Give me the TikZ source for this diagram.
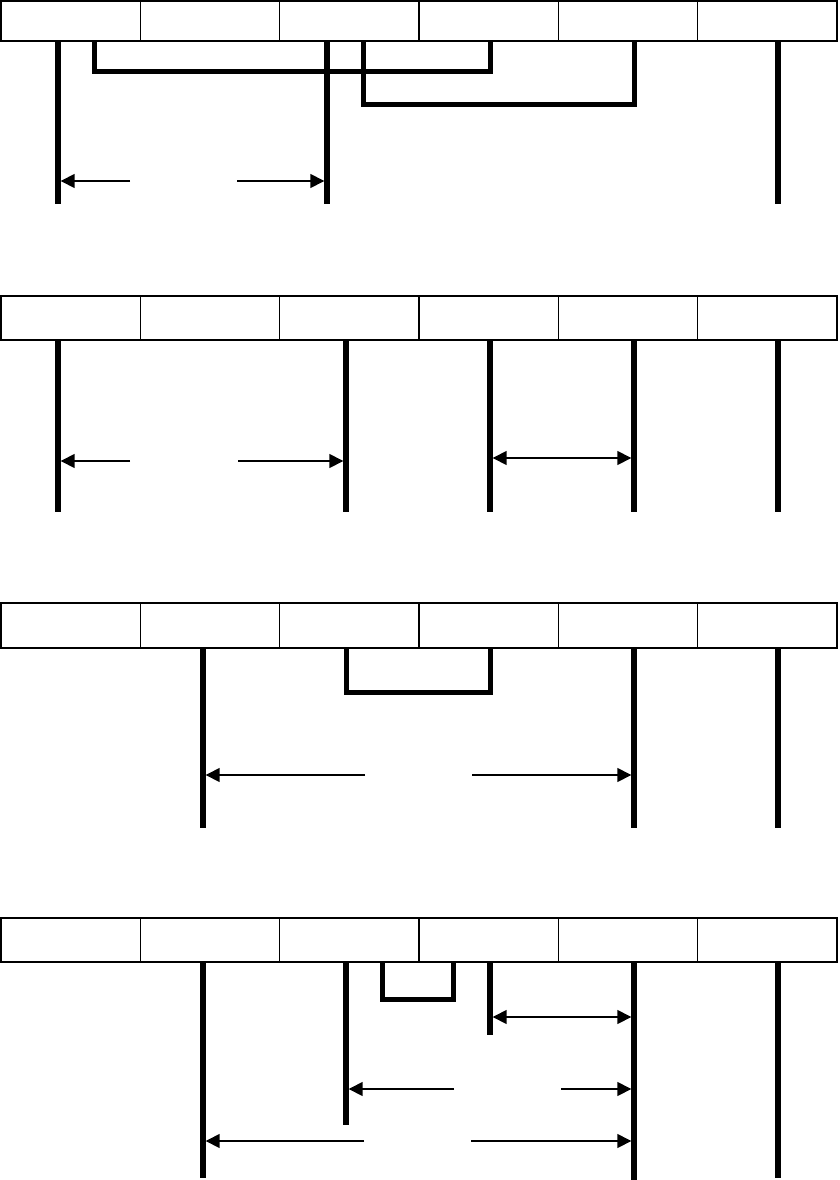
\documentclass[tikz,border=0pt]{standalone}
\usetikzlibrary{arrows.meta, positioning, calc}
\tikzset{
  cellbox/.style={draw=black, line width=1.6pt, minimum width=139.33pt,
    inner sep=0pt, outer sep=0pt, anchor=north west},
  lifeline/.style={line width=5.5pt, black},
  bracketline/.style={line width=5pt, black, line join=miter},
  sarrow/.style={-{Triangle[length=14pt, width=14pt]}, line width=1.5pt, shorten >=2.7pt},
  darrow/.style={{Triangle[length=14pt, width=14pt]}-{Triangle[length=14pt, width=14pt]},
    line width=1.5pt, shorten >=2.7pt, shorten <=2.7pt},
}
\begin{document}
\begin{tikzpicture}[x=1pt, y=-1pt]
  \useasboundingbox (0,0) rectangle (839,1180);

  % Zeile 1
  \foreach \c in {0,...,5}{
    \node[cellbox, minimum height=40pt] (a\c) at (1+139.33*\c,1) {};
  }
  \coordinate (a-l1) at (58,41);
  \coordinate (a-l2) at (327,41);
  \coordinate (a-l3) at (778,41);
  \foreach \p in {a-l1,a-l2,a-l3}{
    \draw[lifeline] (\p) -- ++(0,163);
  }
  \draw[bracketline] (94,41) |- (490,72) -- (490,41);
  \draw[bracketline] (363,41) |- (634,105) -- (634,41);
  \coordinate (a-gl) at (130,181);
  \coordinate (a-gr) at (237,181);
  \draw[sarrow] (a-gl) -- (a-gl -| a-l1);
  \draw[sarrow] (a-gr) -- (a-gr -| a-l2);

  % Zeile 2
  \foreach \c in {0,...,5}{
    \node[cellbox, minimum height=44pt] (b\c) at (1+139.33*\c,296) {};
  }
  \foreach \x [count=\i] in {58,346,490,634,778}{
    \coordinate (b-l\i) at (\x,340);
    \draw[lifeline] (b-l\i) -- ++(0,172);
  }
  \coordinate (b-gl) at (130,461);
  \coordinate (b-gr) at (238,461);
  \draw[sarrow] (b-gl) -- (b-gl -| b-l1);
  \draw[sarrow] (b-gr) -- (b-gr -| b-l2);
  \coordinate (b-d) at (490,458);
  \draw[darrow] (b-d) -- (b-d -| b-l4);

  % Zeile 3
  \foreach \c in {0,...,5}{
    \node[cellbox, minimum height=45pt] (c\c) at (1+139.33*\c,603) {};
  }
  \foreach \x [count=\i] in {203,634,778}{
    \coordinate (c-l\i) at (\x,648);
    \draw[lifeline] (c-l\i) -- ++(0,180);
  }
  \draw[bracketline] (346,648) |- (490,692) -- (490,648);
  \coordinate (c-gl) at (365,775);
  \coordinate (c-gr) at (472,775);
  \draw[sarrow] (c-gl) -- (c-gl -| c-l1);
  \draw[sarrow] (c-gr) -- (c-gr -| c-l2);

  % Zeile 4
  \foreach \c in {0,...,5}{
    \node[cellbox, minimum height=44pt] (d\c) at (1+139.33*\c,918) {};
  }
  \foreach \x/\h [count=\i] in {203/216,346/163,490/73,634/218,778/216}{
    \coordinate (d-l\i) at (\x,962);
    \draw[lifeline] (d-l\i) -- ++(0,\h);
  }
  \draw[bracketline] (382,962) |- (453,999) -- (453,962);
  \coordinate (d-d) at (490,1017);
  \draw[darrow] (d-d) -- (d-d -| d-l4);
  \coordinate (d-gl) at (454,1089);
  \coordinate (d-gr) at (561,1089);
  \draw[sarrow] (d-gl) -- (d-gl -| d-l2);
  \draw[sarrow] (d-gr) -- (d-gr -| d-l4);
  \coordinate (d-hl) at (364,1141);
  \coordinate (d-hr) at (471,1141);
  \draw[sarrow] (d-hl) -- (d-hl -| d-l1);
  \draw[sarrow] (d-hr) -- (d-hr -| d-l4);
\end{tikzpicture}
\end{document}
